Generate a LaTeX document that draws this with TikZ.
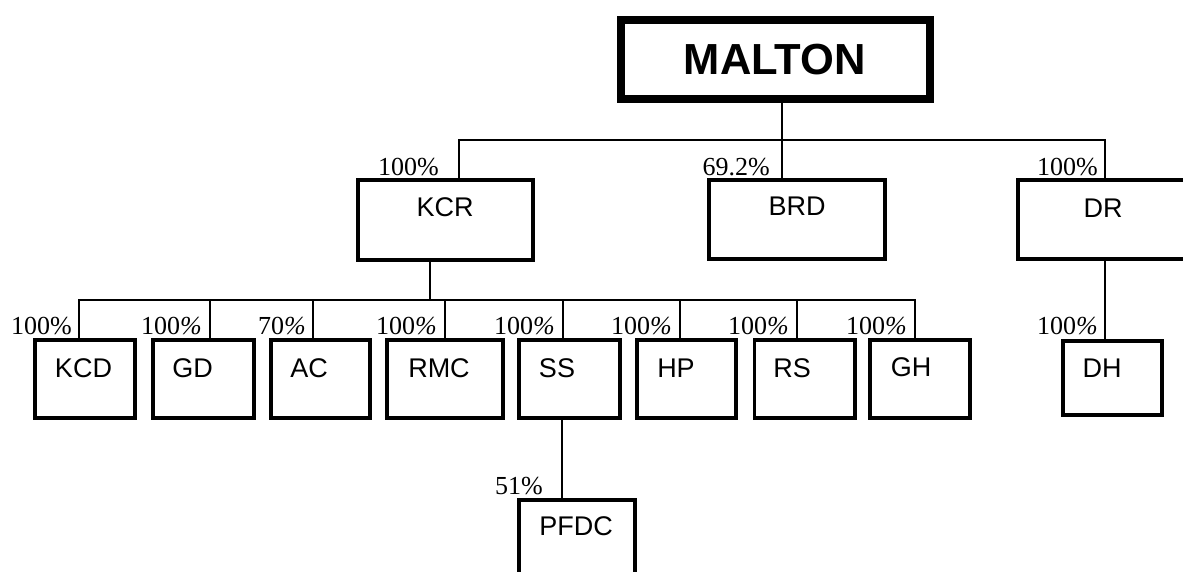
\documentclass[tikz,border=0pt]{standalone}
\usepackage{fontspec}
\setmainfont{Liberation Serif}
\newfontfamily\boxfont{Liberation Sans}
\newcommand\orgbox[6]{\node[#6, minimum width=#4pt, minimum height=#5pt] (#1) at (#2,#3) {};}
\begin{document}
\begin{tikzpicture}[x=1pt,y=-1pt,
  conn/.style={line width=1.2pt},
  org/.style={draw, line width=3.8pt, inner sep=0pt, fill=white},
  orgtop/.style={draw, line width=8pt, inner sep=0pt, fill=white},
  orgtext/.style={font=\boxfont\fontsize{27}{27}\selectfont, anchor=base, inner sep=0pt},
  toptext/.style={font=\boxfont\bfseries\fontsize{43.5}{43.5}\selectfont, anchor=base, inner sep=0pt},
  pct/.style={font=\fontsize{26}{26}\selectfont, anchor=base east, inner sep=0pt}]
\clip (0,0) rectangle (1183,571);
\fill[white] (0,0) rectangle (1183,571);
% boxes
\orgbox{malton}{775.5}{59.5}{309}{79}{orgtop}
\orgbox{kcr}{445.5}{220}{175.2}{80.2}{org}
\orgbox{brd}{797}{219.5}{176.2}{79.2}{org}
\orgbox{dr}{1104}{219.5}{172.2}{79.2}{org}
\orgbox{kcd}{85}{379}{100.2}{78.2}{org}
\orgbox{gd}{203.5}{379}{101.2}{78.2}{org}
\orgbox{ac}{320.5}{379}{99.2}{78.2}{org}
\orgbox{rmc}{445}{379}{116.2}{78.2}{org}
\orgbox{ss}{569.5}{379}{101.2}{78.2}{org}
\orgbox{hp}{686.5}{379}{99.2}{78.2}{org}
\orgbox{rs}{804.75}{379}{100.7}{78.2}{org}
\orgbox{gh}{920}{379}{100.2}{78.2}{org}
\orgbox{dh}{1112.5}{378}{99.2}{74.2}{org}
\orgbox{pfdc}{577}{539}{116.2}{78.2}{org}
% connector positions
\coordinate (b1) at (782,140);
\coordinate (kcrc) at (459,0);
\coordinate (drc) at (1105,0);
\coordinate (b2) at (430,300);
\coordinate (kcdc) at (79,0);
\coordinate (gdc) at (210,0);
\coordinate (acc) at (313,0);
\coordinate (rmcc) at (445,0);
\coordinate (ssc) at (563,0);
\coordinate (hpc) at (680,0);
\coordinate (rsc) at (797,0);
\coordinate (ghc) at (915,0);
\coordinate (pfdcc) at (562,0);
% connectors
\draw[conn] (malton.south -| b1) -- (b1);
\draw[conn] (kcr.north -| kcrc) |- (b1) -| (dr.north -| drc);
\draw[conn] (brd.north -| b1) -- (b1);
\draw[conn] (kcr.south -| b2) -- (b2);
\draw[conn] (kcd.north -| kcdc) |- (b2) -| (gh.north -| ghc);
\foreach \n in {gd,ac,rmc,ss,hp,rs}
  \draw[conn] (\n.north -| \n c) -- (\n c |- b2);
\draw[conn] (dr.south -| drc) -- (dh.north -| drc);
\draw[conn] (ss.south -| pfdcc) -- (pfdc.north -| pfdcc);
% box texts
\node[toptext] (maltonT) at (775,74) {MALTON};
\node[orgtext] (kcrT) at (445,216) {KCR};
\node[orgtext] (brdT) at (797,215) {BRD};
\node[orgtext] (drT) at (1103,217) {DR};
\node[orgtext] (kcdT) at (83.5,377) {KCD};
\node[orgtext] (gdT) at (192.5,377) {GD};
\node[orgtext] (acT) at (309,377) {AC};
\node[orgtext] (rmcT) at (439,377) {RMC};
\node[orgtext] (ssT) at (557,377) {SS};
\node[orgtext] (hpT) at (676,377) {HP};
\node[orgtext] (rsT) at (792,377) {RS};
\node[orgtext] (ghT) at (911,376) {GH};
\node[orgtext] (dhT) at (1102,377) {DH};
\node[orgtext] (pfdcT) at (576,535) {PFDC};
% percentages
\node[pct] (kcrP) at (439,175) {100\%};
\node[pct] (brdP) at (770,175) {69.2\%};
\node[pct] (drP) at (1098,175) {100\%};
\node[pct] (kcdP) at (72,334) {100\%};
\node[pct] (gdP) at (202,334) {100\textit{\%}};
\node[pct] (acP) at (306,334) {70\textit{\%}};
\node[pct] (rmcP) at (437,334) {100\textit{\%}};
\node[pct] (ssP) at (555,334) {100\textit{\%}};
\node[pct] (hpP) at (672,334) {100\textit{\%}};
\node[pct] (rsP) at (789,334) {100\textit{\%}};
\node[pct] (ghP) at (907,334) {100\textit{\%}};
\node[pct] (dhP) at (1098,334) {100\textit{\%}};
\node[pct] (pfdcP) at (543,494) {51\%};
\end{tikzpicture}
\end{document}
